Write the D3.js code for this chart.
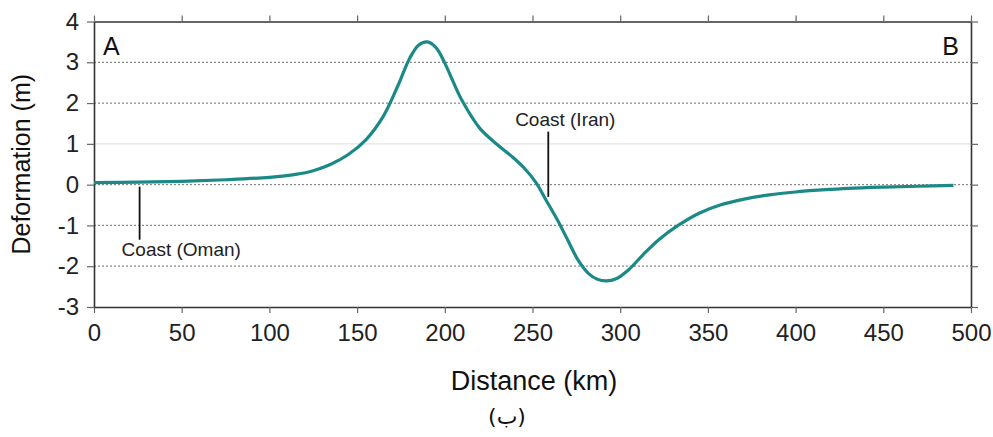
<!DOCTYPE html>
<html>
<head>
<meta charset="utf-8">
<script src="https://cdn.jsdelivr.net/npm/d3@7"></script>
<style>
  html, body { margin: 0; padding: 0; background: #fff; }
  svg { display: block; font-family: "Liberation Sans", Arial, sans-serif; }
</style>
</head>
<body>
<div id="chart"></div>
<script>
// Deformation profile A–B
const distanceKm = [0, 25, 50, 75, 100, 115, 125, 135, 145, 155, 165, 173, 180, 185, 190, 195, 200, 205, 210, 220, 230, 238, 245, 252, 258, 264, 270, 276, 282, 287, 292, 298, 305, 313, 322, 333, 345, 357, 370, 385, 400, 415, 430, 450, 470, 490];
const deformationM = [0.05, 0.06, 0.08, 0.12, 0.18, 0.25, 0.34, 0.5, 0.74, 1.1, 1.68, 2.4, 3.1, 3.42, 3.5, 3.36, 2.98, 2.5, 2.05, 1.38, 0.98, 0.7, 0.42, 0.05, -0.4, -0.85, -1.35, -1.85, -2.18, -2.32, -2.36, -2.3, -2.08, -1.72, -1.35, -1.0, -0.7, -0.5, -0.36, -0.25, -0.18, -0.13, -0.09, -0.06, -0.04, -0.02];

const xTicks = [0, 50, 100, 150, 200, 250, 300, 350, 400, 450, 500];
const yTicks = [-3, -2, -1, 0, 1, 2, 3, 4];
const dashedGrid = [3, 2, 0, -1, -2];
const faintGrid = [1];

const coasts = [
  { name: 'Coast (Oman)', km: 26, y0: -0.05, y1: -1.35, labelY: -1.75, anchor: 'start', dx: -18 },
  { name: 'Coast (Iran)', km: 259, y0: 1.3, y1: -0.3, labelY: 1.45, anchor: 'middle', dx: 17 }
];

const MARGIN = { top: 21.5, right: 22, bottom: 130, left: 94 };
const WIDTH = 993, HEIGHT = 437;
const W = WIDTH - MARGIN.left - MARGIN.right;
const H = HEIGHT - MARGIN.top - MARGIN.bottom;

const svg = d3.select('#chart').append('svg')
  .attr('width', WIDTH).attr('height', HEIGHT);

const g = svg.append('g').attr('transform', `translate(${MARGIN.left},${MARGIN.top})`);

const x = d3.scaleLinear().domain([0, 500]).range([0, W]);
const y = d3.scaleLinear().domain([-3, 4]).range([H, 0]);

// gridlines
g.selectAll('.grid-dash').data(dashedGrid).join('line')
  .attr('x1', 0).attr('x2', W)
  .attr('y1', d => y(d)).attr('y2', d => y(d))
  .attr('stroke', '#8a8a8a').attr('stroke-width', 1.2).attr('stroke-dasharray', '2,2');
g.selectAll('.grid-faint').data(faintGrid).join('line')
  .attr('x1', 0).attr('x2', W)
  .attr('y1', d => y(d)).attr('y2', d => y(d))
  .attr('stroke', '#e4e4e4').attr('stroke-width', 1.2);

const axisColor = '#333';
const tickFont = '24px';
const fmt = d => String(d);

function styleAxis(ax, showText) {
  ax.select('.domain').attr('stroke', axisColor).attr('stroke-width', 1.6);
  ax.selectAll('.tick line').attr('stroke', '#666').attr('stroke-width', 1.2);
  ax.selectAll('.tick text').style('font-size', tickFont).attr('fill', '#222');
  if (!showText) ax.selectAll('.tick text').remove();
}

g.append('g').attr('transform', `translate(0,${H})`)
  .call(d3.axisBottom(x).tickValues(xTicks).tickFormat(fmt).tickSize(6).tickSizeOuter(0).tickPadding(11))
  .call(ax => styleAxis(ax, true));
g.append('g')
  .call(d3.axisTop(x).tickValues(xTicks).tickSize(6).tickSizeOuter(0))
  .call(ax => styleAxis(ax, false));
g.append('g')
  .call(d3.axisLeft(y).tickValues(yTicks).tickFormat(fmt).tickSize(7).tickSizeOuter(0).tickPadding(8))
  .call(ax => styleAxis(ax, true));
g.append('g').attr('transform', `translate(${W},0)`)
  .call(d3.axisRight(y).tickValues(yTicks).tickSize(7).tickSizeOuter(0))
  .call(ax => styleAxis(ax, false));

// profile line
const line = d3.line()
  .x((d, i) => x(distanceKm[i]))
  .y(d => y(d))
  .curve(d3.curveCatmullRom.alpha(0.5));

g.append('path')
  .datum(deformationM)
  .attr('fill', 'none')
  .attr('stroke', '#1b8a87')
  .attr('stroke-width', 3.2)
  .attr('stroke-linejoin', 'round')
  .attr('d', line);

// coast markers
coasts.forEach(c => {
  g.append('line')
    .attr('x1', x(c.km)).attr('x2', x(c.km))
    .attr('y1', y(c.y0)).attr('y2', y(c.y1))
    .attr('stroke', '#111').attr('stroke-width', 1.8);
  g.append('text')
    .attr('x', x(c.km) + c.dx).attr('y', y(c.labelY))
    .attr('text-anchor', c.anchor)
    .style('font-size', '19px').attr('fill', '#222')
    .text(c.name);
});

// end labels
g.append('text').attr('x', 9).attr('y', 33).style('font-size', '25px').attr('fill', '#111').text('A');
g.append('text').attr('x', W - 12).attr('y', 33).attr('text-anchor', 'end')
  .style('font-size', '25px').attr('fill', '#111').text('B');

// axis titles
svg.append('text')
  .attr('transform', `translate(30,${MARGIN.top + H / 2}) rotate(-90)`)
  .attr('text-anchor', 'middle')
  .style('font-size', '25px').attr('fill', '#111')
  .text('Deformation (m)');

svg.append('text')
  .attr('x', 534).attr('y', 390)
  .attr('text-anchor', 'middle')
  .style('font-size', '27px').attr('fill', '#111')
  .text('Distance (km)');

svg.append('text')
  .attr('x', 507).attr('y', 424)
  .attr('text-anchor', 'middle')
  .style('font-family', '"DejaVu Sans", sans-serif')
  .style('font-size', '22px').attr('fill', '#111')
  .text('(ب)');
</script>
</body>
</html>
